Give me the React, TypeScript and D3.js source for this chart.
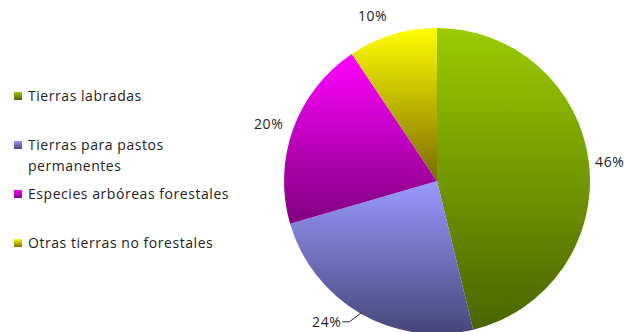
import * as d3 from "d3";

const categories = [
  "Tierras labradas",
  "Tierras para pastos permanentes",
  "Especies arbóreas forestales",
  "Otras tierras no forestales",
];
const values = [46.2, 24.3, 20.1, 9.4];
const labels = ["46%", "24%", "20%", "10%"];
const topColors = ["#99cc00", "#9999ff", "#ff00ff", "#ffff00"];
const bottomColors = ["#4a6300", "#46467a", "#800080", "#7a6a00"];

// legend lines (second entry wraps)
const legendLines = [
  ["Tierras labradas"],
  ["Tierras para pastos", "permanentes"],
  ["Especies arbóreas forestales"],
  ["Otras tierras no forestales"],
];
const legendY = [96, 145, 194, 243];

// small nudges so labels sit where excel put them
const labelNudge = [
  [-3, 2],
  [0, 0],
  [-2, 4],
  [-13, 4],
];

const width = 624;
const height = 332;
const cx = 437;
const cy = 181;
const radius = 153;
const font = "'Open Sans', sans-serif";
const fontSize = 14;
const spacing = 0.55;

const App = () => {
  const pie = d3
    .pie<number>()
    .sort(null)
    .value((d) => d);
  const arcs = pie(values);
  const arcGen = d3.arc<d3.PieArcDatum<number>>().innerRadius(0).outerRadius(radius);
  const labelArc = d3
    .arc<d3.PieArcDatum<number>>()
    .innerRadius(radius + 24)
    .outerRadius(radius + 24);
  const edgeArc = d3
    .arc<d3.PieArcDatum<number>>()
    .innerRadius(radius - 1)
    .outerRadius(radius - 1);

  return (
    <svg
      width={width}
      height={height}
      style={{ position: "absolute", left: 0, top: 0 }}
    >
      <defs>
        {categories.map((c, i) => (
          <linearGradient key={c} id={`g${i}`} x1="0" y1="0" x2="0" y2="1">
            <stop offset="0" stopColor={topColors[i]} />
            <stop offset="1" stopColor={bottomColors[i]} />
          </linearGradient>
        ))}
      </defs>
      <rect width={width} height={height} fill="white" />
      <g transform={`translate(${cx},${cy})`}>
        {arcs.map((a, i) => (
          <path key={i} d={arcGen(a) ?? undefined} fill={`url(#g${i})`} />
        ))}
        {arcs.map((a, i) => {
          if (i === 1) {
            // 24% sits outside with a leader line
            const ang = a.startAngle + 0.76;
            const [px, py] = edgeArc.centroid({ ...a, startAngle: ang, endAngle: ang });
            return (
              <g key={i}>
                <path
                  d={`M${px},${py}L${px - 12},${py + 9}L${px - 19},${py + 9}`}
                  fill="none"
                  stroke="#222"
                  strokeWidth={1}
                />
                <text
                  x={px - 20}
                  y={py + 9}
                  textAnchor="end"
                  dy="0.35em"
                  fontFamily={font}
                  fontSize={fontSize}
                  letterSpacing={spacing}
                  fill="#222"
                >
                  {labels[i]}
                </text>
              </g>
            );
          }
          const [x, y] = labelArc.centroid(a);
          return (
            <text
              key={i}
              x={x + labelNudge[i][0]}
              y={y + labelNudge[i][1]}
              textAnchor="middle"
              dy="0.35em"
              fontFamily={font}
              fontSize={fontSize}
              letterSpacing={spacing}
              fill="#222"
            >
              {labels[i]}
            </text>
          );
        })}
      </g>
      <g>
        {legendLines.map((lines, i) => (
          <g key={i}>
            <rect x={14} y={legendY[i] - 4} width={8} height={8} fill={`url(#g${i})`} />
            <text
              x={28}
              y={legendY[i]}
              fontFamily={font}
              fontSize={fontSize}
              letterSpacing={spacing}
              fill="#222"
            >
              {lines.map((l, j) => (
                <tspan key={j} x={28} dy={j === 0 ? "0.35em" : 21}>
                  {l}
                </tspan>
              ))}
            </text>
          </g>
        ))}
      </g>
    </svg>
  );
};

export default App;
